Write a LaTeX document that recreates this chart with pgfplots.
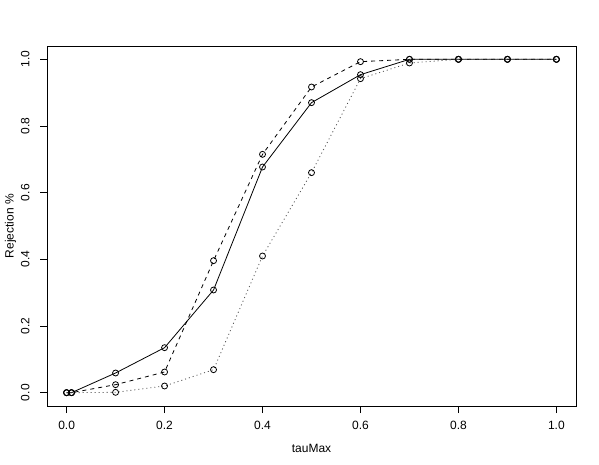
\documentclass[border=0pt]{standalone}
\usepackage{pgfplots}
\pgfplotsset{compat=1.18}
\usepackage{fontspec}
\setmainfont{Liberation Sans}

\pgfplotstableread{
x     a      b      c
0.00  0.000  0.000  0.000
0.01  0.000  0.000  0.000
0.10  0.059  0.024  0.001
0.20  0.135  0.062  0.020
0.30  0.308  0.396  0.069
0.40  0.677  0.715  0.410
0.50  0.870  0.917  0.660
0.60  0.954  0.993  0.942
0.70  1.000  1.000  0.989
0.80  1.000  1.000  1.000
0.90  1.000  1.000  1.000
1.00  1.000  1.000  1.000
}\rej

\begin{document}
\begin{tikzpicture}
\begin{axis}[
  scale only axis,
  width=529pt, height=360pt,
  xmin=-0.04, xmax=1.04, ymin=-0.04, ymax=1.04,
  xtick={0,0.2,...,1}, ytick={0,0.2,...,1},
  /pgf/number format/fixed,
  /pgf/number format/fixed zerofill,
  /pgf/number format/precision=1,
  /pgf/number format/assume math mode=true,
  tick label style={font=\fontsize{12}{14}\selectfont},
  xticklabel style={yshift=-5pt},
  yticklabel style={xshift=-7pt, rotate=90, anchor=south},
  label style={font=\fontsize{12}{14}\selectfont},
  xlabel={tauMax},
  ylabel={Rejection \%},
  tick pos=left, tick align=outside,
  major tick length=7pt,
  every tick/.style={black, line width=0.8pt},
  axis line style={line width=0.8pt},
  xlabel style={yshift=-7pt},
  ylabel style={yshift=-2pt},
]
\addplot[black, solid, line width=0.8pt, mark=o, mark size=3pt,
  mark options={solid, fill=white, line width=0.8pt}] table[x=x, y=a] {\rej};
\addplot[black, dash pattern=on 4pt off 4pt, line width=0.8pt, mark=o, mark size=3pt,
  mark options={solid, fill=white, line width=0.8pt}] table[x=x, y=b] {\rej};
\addplot[black!70, dash pattern=on 1pt off 3pt, line width=0.8pt, mark=o, mark size=3pt,
  mark options={solid, draw=black, fill=white, line width=0.8pt}] table[x=x, y=c] {\rej};
\end{axis}
\pgfresetboundingbox
\useasboundingbox ([xshift=-47pt, yshift=-59pt]current axis.south west)
  rectangle ([xshift=23pt, yshift=46pt]current axis.north east);
\end{tikzpicture}
\end{document}
